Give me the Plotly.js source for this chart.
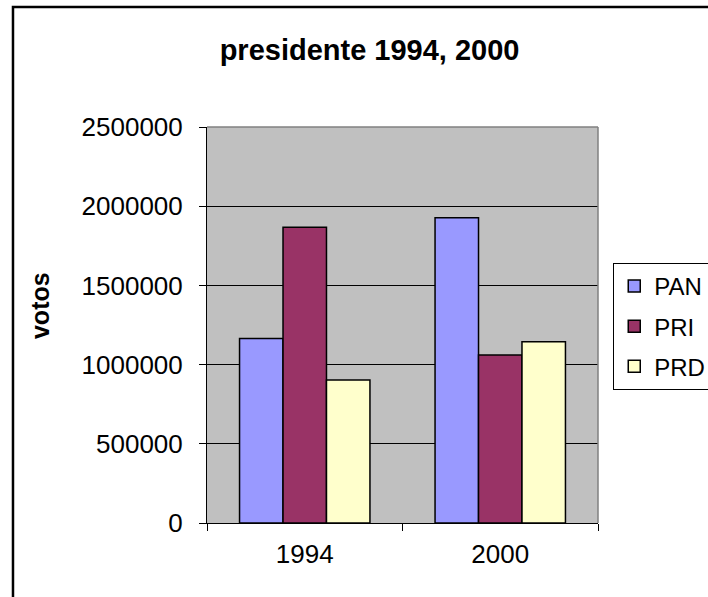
<!DOCTYPE html>
<html>
<head>
<meta charset="utf-8">
<script src="https://cdn.plot.ly/plotly-3.0.1.min.js"></script>
<style>html,body{margin:0;padding:0;background:#fff;}</style>
</head>
<body>
<div id="chart" style="width:708px;height:597px;"></div>
<script>
const years = ["1994", "2000"];
const parties = ["PAN", "PRI", "PRD"];
const panVotes = [1165000, 1927000];
const priVotes = [1867000, 1060000];
const prdVotes = [903000, 1144000];
const partyColors = ["#9999FF", "#993366", "#FFFFCC"];
const seriesValues = [panVotes, priVotes, prdVotes];
const yAxisLabel = "votos";
const chartTitle = "presidente 1994, 2000";

const FONT = 'Arial, "Liberation Sans", sans-serif';

const traces = parties.map((p, i) => ({
  type: "bar",
  name: p,
  x: years,
  y: seriesValues[i],
  legendgroup: p,
  marker: { color: partyColors[i], line: { color: "#000000", width: 1.5 } },
  hoverinfo: "x+y+name"
}));

const layout = {
  width: 708,
  height: 597,
  margin: { l: 207, r: 110, t: 127, b: 74, autoexpand: false },
  paper_bgcolor: "#FFFFFF",
  plot_bgcolor: "#C0C0C0",
  font: { family: FONT, color: "#000000" },
  title: {
    text: "<b>" + chartTitle + "</b>",
    font: { size: 29, family: FONT, color: "#000000" },
    xref: "container", x: 0.522, xanchor: "center",
    yref: "container", y: 0.916, yanchor: "middle"
  },
  barmode: "group",
  bargap: 0.333,
  bargroupgap: 0,
  xaxis: {
    type: "category",
    showline: true, linecolor: "#000000", linewidth: 1,
    ticks: "outside", tickson: "boundaries", ticklen: 7, tickcolor: "#000000",
    tickfont: { size: 26, family: FONT, color: "#000000" },
    ticklabelstandoff: 8,
    showgrid: false, zeroline: false
  },
  yaxis: {
    range: [0, 2500000],
    dtick: 500000,
    tickformat: "d",
    showline: true, linecolor: "#000000", linewidth: 1,
    ticks: "outside", ticklen: 7, tickcolor: "#000000",
    tickfont: { size: 26, family: FONT, color: "#000000" },
    ticklabelstandoff: 11,
    showgrid: true, gridcolor: "#000000", gridwidth: 1,
    zeroline: false
  },
  annotations: [
    { text: "<b>" + yAxisLabel + "</b>", xref: "paper", yref: "paper",
      x: -0.427, y: 0.548, xanchor: "center", yanchor: "middle",
      textangle: -90, showarrow: false,
      font: { size: 25, family: FONT, color: "#000000" } }
  ],
  showlegend: true,
  legend: {
    x: 1.039, xanchor: "left",
    y: 0.657, yanchor: "top",
    bgcolor: "#FFFFFF", bordercolor: "#000000", borderwidth: 1,
    font: { size: 24, family: FONT, color: "#000000" },
    traceorder: "grouped", tracegroupgap: 6
  },
  shapes: [
    { type: "line", xref: "paper", yref: "paper", x0: 0, x1: 1, y0: 1, y1: 1,
      line: { color: "#808080", width: 1.5 }, layer: "above" },
    { type: "line", xref: "paper", yref: "paper", x0: 1, x1: 1, y0: 0, y1: 1,
      line: { color: "#808080", width: 1.5 }, layer: "above" },
    { type: "rect", xref: "paper", yref: "paper", x0: -0.4962, x1: 1.6, y0: -0.6, y1: 1.303,
      line: { color: "#000000", width: 2.5 }, fillcolor: "rgba(0,0,0,0)", layer: "above" }
  ]
};

Plotly.newPlot("chart", traces, layout, { displayModeBar: false });
</script>
</body>
</html>
